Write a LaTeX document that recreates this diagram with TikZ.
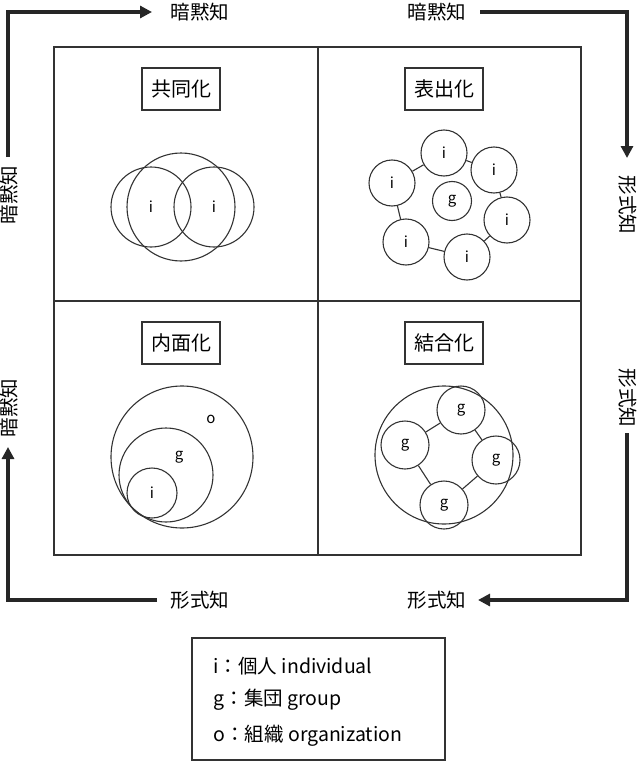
\documentclass[tikz,border=0pt]{standalone}
\usepackage{fontspec}
\setmainfont{Noto Sans CJK JP}
\usetikzlibrary{arrows.meta}
\tikzset{
 ln/.style={line width=1.1pt,draw=black!80},
 ttl/.style={draw=black!80,line width=1.1pt,inner xsep=9pt,minimum height=42pt,font=\fontsize{20}{24}\selectfont},
 cr/.style={circle,draw=black!80,line width=1.1pt,minimum size=#1,inner sep=0pt,font=\fontsize{15}{18}\selectfont},
 sr/.style={circle,draw=black!80,line width=1.1pt,minimum size=#1,inner sep=0pt,font=\rmfamily\fontsize{15}{18}\selectfont},
 arr/.style={line width=3.2pt,draw=black!85,-{Triangle[length=12pt,width=12pt]}},
 lab/.style={font=\fontsize{19.5}{22}\selectfont},
}
\begin{document}
\begin{tikzpicture}[x=1pt,y=-1pt]
\useasboundingbox (0,0) rectangle (639,765);
\draw[ln] (54,47) rectangle (581,555);
\draw[ln] (318,47) -- (318,555) (54,301) -- (581,301);
\node[ttl] (t1) at (181,89) {共同化};
\node[ttl] (t2) at (444,89) {表出化};
\node[ttl] (t3) at (181,343) {内面化};
\node[ttl] (t4) at (444,343) {結合化};
% TL
\node[cr=108pt] (big1) at (181,207) {};
\node[cr=80pt] (a1) at (151,207) {i};
\node[cr=80pt] (a2) at (214,207) {i};
% TR
\node[cr=46pt] (b1) at (444,153) {i};
\node[cr=46pt] (b2) at (494,170) {i};
\node[cr=46pt] (b3) at (507,220) {i};
\node[cr=46pt] (b4) at (467,257) {i};
\node[cr=46pt] (b5) at (406,242) {i};
\node[cr=46pt] (b6) at (392,183) {i};
\node[sr=39pt] (bg) at (452,201) {g};
\foreach \p/\q in {b1/b2,b2/b3,b3/b4,b4/b5,b5/b6,b6/b1} \draw[ln] (\p) -- (\q);
% BL
\node[cr=142pt] (c1) at (182,457) {};
\node[cr=94pt] (c2) at (166,475) {};
\node[cr=50pt] (c3) at (152,493) {};
\node[font=\fontsize{15}{18}\selectfont] (co) at (211,419) {o};
\node[font=\fontsize{15}{18}\selectfont] (cg) at (179,457) {g};
\node[font=\fontsize{15}{18}\selectfont] (ci) at (152,493) {i};
% BR
\node[sr=138pt] (d0) at (444,455) {};
\node[sr=48pt] (d1) at (461,410) {g};
\node[sr=48pt] (d2) at (405,445) {g};
\node[sr=48pt] (d3) at (496,460) {g};
\node[sr=48pt] (d4) at (444,505) {g};
\foreach \p/\q in {d1/d2,d2/d4,d4/d3,d3/d1} \draw[ln] (\p) -- (\q);
% labels & arrows
\node[lab] (l1) at (200,12) {暗黙知};
\node[lab] (l2) at (437,12) {暗黙知};
\node[lab,rotate=90] (l3) at (9,195) {暗黙知};
\node[lab,rotate=-90] (l4) at (628,205) {形式知};
\node[lab,rotate=90] (l5) at (9,408) {暗黙知};
\node[lab,rotate=-90] (l6) at (628,398) {形式知};
\node[lab] (l7) at (200,600) {形式知};
\node[lab] (l8) at (437,600) {形式知};
\coordinate (k1) at (8,12); \coordinate (k2) at (627,12);
\coordinate (k3) at (627,600); \coordinate (k4) at (8,600);
\draw[arr] (8,157) -- (k1) -- (152,12);
\draw[arr] (480,12) -- (k2) -- (627,158);
\draw[arr] (627,433) -- (k3) -- (478,600);
\draw[arr] (157,600) -- (k4) -- (8,447);
% legend
\draw[ln] (192,638) rectangle (445,760);
\node[lab,anchor=west] (g1) at (210,666) {i：個人 individual};
\node[lab,anchor=west] (g2) at (210,700) {g：集団 group};
\node[lab,anchor=west] (g3) at (210,736) {o：組織 organization};
\end{tikzpicture}
\end{document}
